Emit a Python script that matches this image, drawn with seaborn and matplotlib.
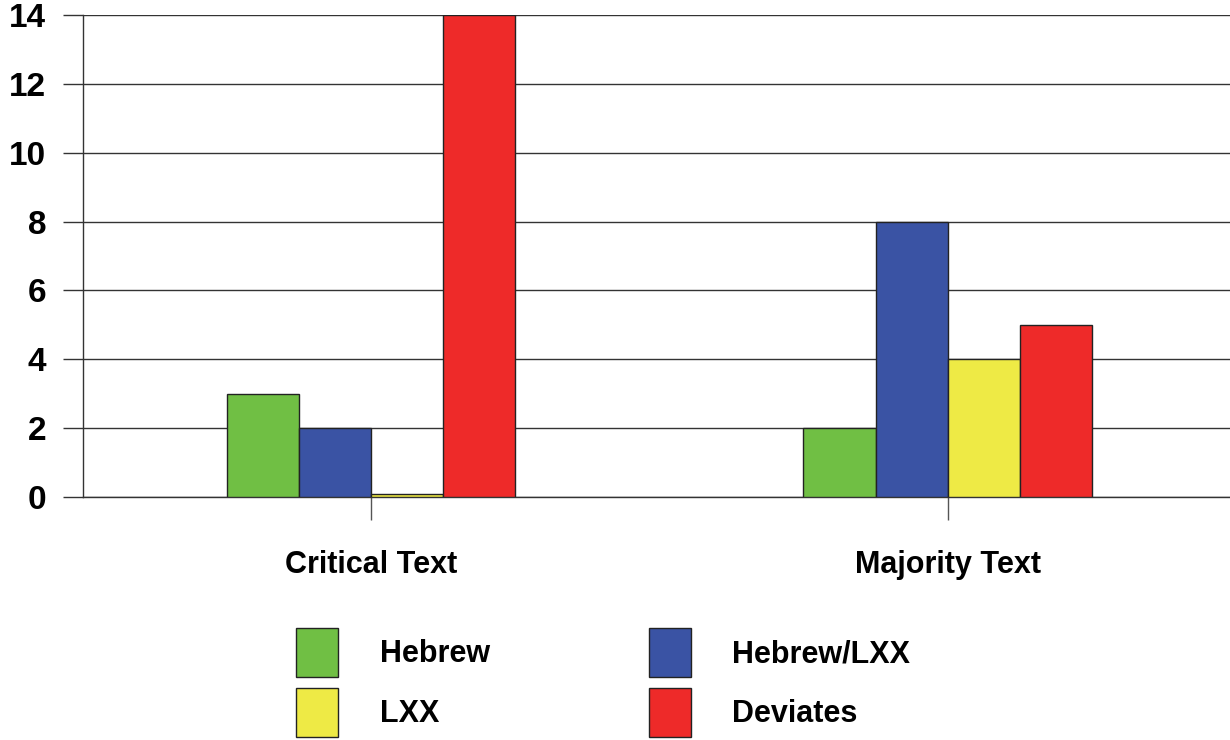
import pandas as pd
import matplotlib
matplotlib.use('Agg')
import matplotlib.pyplot as plt
import seaborn as sns

texts = ['Critical Text', 'Majority Text']
sources = ['Hebrew', 'Hebrew/LXX', 'LXX', 'Deviates']
hebrew = [3, 2]
hebrew_lxx = [2, 8]
lxx = [0.1, 4]
deviates = [14, 5]
colors = ['#70BF44', '#3A53A4', '#EEEA45', '#EE2A29']

rows = []
for src, vals in zip(sources, [hebrew, hebrew_lxx, lxx, deviates]):
    for t, v in zip(texts, vals):
        rows.append({'text': t, 'source': src, 'count': v})
df = pd.DataFrame(rows)

sns.set_style('white')
plt.rcParams['font.family'] = ['Liberation Sans', 'DejaVu Sans']
plt.rcParams['font.weight'] = 'bold'
plt.rcParams['text.color'] = 'black'
plt.rcParams['xtick.color'] = 'black'
plt.rcParams['ytick.color'] = 'black'

fig = plt.figure(figsize=(12.3, 7.4), dpi=100)
ax = fig.add_axes([83 / 1230, 1 - 497 / 740, 1 - 83 / 1230, (497 - 15) / 740])

sns.barplot(data=df, x='text', y='count', hue='source', hue_order=sources,
            palette=colors, width=0.5, gap=0, edgecolor='#222222', linewidth=1,
            saturation=1, ax=ax, legend=True, zorder=3)

ax.set_ylim(0, 14)
ax.set_xlim(-0.5, 1.49)
ax.set_yticks(range(0, 15, 2))
ax.yaxis.grid(True, color='#333333', linewidth=1)
ax.set_axisbelow(True)
ax.set_xlabel('')
ax.set_ylabel('')
for s in ['top', 'right']:
    ax.spines[s].set_visible(False)
for s in ['left', 'bottom']:
    ax.spines[s].set_color('#333333')
    ax.spines[s].set_linewidth(1)
ax.tick_params(axis='y', length=14.5, width=1, color='#333333', pad=12,
               labelsize=24, labelcolor='black', direction='out', left=True)
ax.tick_params(axis='x', length=16.5, width=1, color='#555555', pad=22,
               labelsize=22, labelcolor='black', direction='out', bottom=True)
for lab in ax.get_xticklabels() + ax.get_yticklabels():
    lab.set_fontweight('bold')

handles, labels = ax.get_legend_handles_labels()
ax.get_legend().remove()
order = [0, 2, 1, 3]
fig.legend([handles[i] for i in order], [labels[i] for i in order],
           ncol=2, loc='upper left', bbox_to_anchor=(296 / 1230, 1 - 628 / 740),
           frameon=False, borderpad=0, borderaxespad=0, handlelength=1.37,
           handleheight=2.08, handletextpad=1.37, columnspacing=5.2,
           labelspacing=0.36, prop={'weight': 'bold', 'size': 22})

fig.savefig('out.png', dpi=100)
